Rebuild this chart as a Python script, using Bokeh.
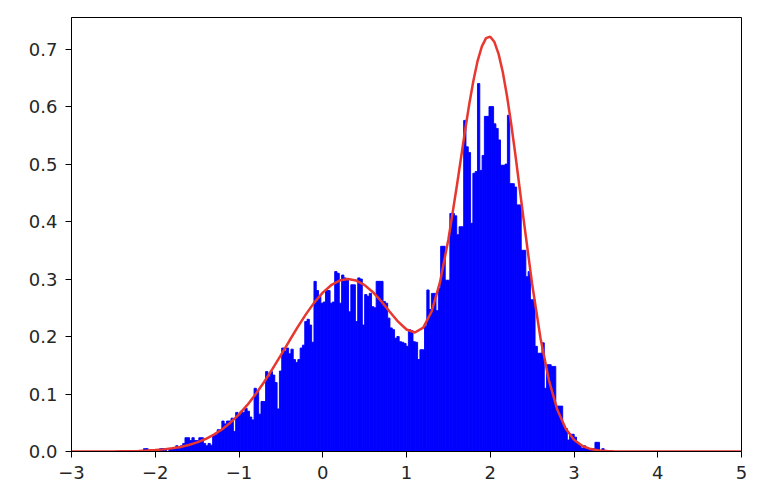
from bokeh.plotting import figure
from bokeh.models import Range1d, FixedTicker, ColumnDataSource
from bokeh.embed import file_html
from bokeh.resources import INLINE

# Histogram: uniform bins starting at bin_start, width bin_width
bin_start = -2.14
bin_width = 0.0275
bar_heights = [
    0.005, 0.005, 0, 0, 0, 0, 0, 0.005, 0.005, 0.005,
    0, 0.005, 0.005, 0.005, 0.01, 0.005, 0.01, 0.014, 0.024, 0.024,
    0.019, 0.024, 0.019, 0.019, 0.024, 0.024, 0.014, 0.01, 0.014, 0.011,
    0.029, 0.029, 0.038, 0.038, 0.053, 0.048, 0.053, 0.053, 0.058, 0.035,
    0.068, 0.063, 0.07, 0.068, 0.075, 0.07, 0.06, 0.055, 0.11, 0.105,
    0.065, 0.087, 0.087, 0.139, 0.13, 0.139, 0.133, 0.12, 0.074, 0.14,
    0.18, 0.175, 0.18, 0.17, 0.178, 0.16, 0.155, 0.16, 0.18, 0.185,
    0.226, 0.23, 0.22, 0.19, 0.296, 0.28, 0.27, 0.258, 0.26, 0.28,
    0.28, 0.258, 0.26, 0.313, 0.31, 0.258, 0.307, 0.302, 0.30, 0.243,
    0.29, 0.29, 0.226, 0.302, 0.30, 0.22, 0.273, 0.27, 0.275, 0.252,
    0.25, 0.296, 0.296, 0.296, 0.261, 0.258, 0.232, 0.215, 0.212, 0.197,
    0.2, 0.191, 0.19, 0.188, 0.183, 0.212, 0.21, 0.191, 0.19, 0.16,
    0.177, 0.177, 0.218, 0.281, 0.247, 0.275, 0.275, 0.245, 0.284, 0.357,
    0.357, 0.298, 0.298, 0.414, 0.414, 0.41, 0.377, 0.391, 0.391, 0.576,
    0.53, 0.52, 0.397, 0.484, 0.487, 0.64, 0.489, 0.515, 0.583, 0.583,
    0.60, 0.60, 0.57, 0.562, 0.542, 0.498, 0.498, 0.5, 0.585, 0.466,
    0.466, 0.46, 0.429, 0.429, 0.35, 0.35, 0.304, 0.313, 0.264, 0.264,
    0.183, 0.171, 0.171, 0.189, 0.11, 0.151, 0.151, 0.148, 0.148, 0.079,
    0.079, 0.079, 0.045, 0.04, 0.02, 0.03, 0.03, 0.025, 0.015, 0.012,
    0.006, 0.01, 0.005, 0.005, 0.005, 0.005, 0.016, 0.016, 0, 0.005,
]

curve_x = [-3.0, -2.5, -2.4, -2.3, -2.2, -2.1, -2.0, -1.9, -1.8, -1.7,
           -1.6, -1.5, -1.4, -1.3, -1.2, -1.1, -1.0, -0.9, -0.8, -0.7,
           -0.6, -0.5, -0.4, -0.3, -0.2, -0.1, 0.0, 0.1, 0.2, 0.3,
           0.4, 0.5, 0.6, 0.7, 0.8, 0.9, 1.0, 1.1, 1.2, 1.3,
           1.4, 1.5, 1.6, 1.7, 1.75, 1.8, 1.85, 1.9, 1.95, 2.0,
           2.05, 2.1, 2.15, 2.2, 2.25, 2.3, 2.4, 2.5, 2.6, 2.7,
           2.8, 2.9, 3.0, 3.1, 3.2, 3.3, 3.4, 3.5, 3.6, 5.0]
curve_y = [0.0, 0.0002, 0.0004, 0.0006, 0.0010, 0.0016, 0.0025, 0.0037, 0.0055, 0.0079,
           0.0113, 0.0158, 0.0217, 0.0293, 0.0388, 0.0505, 0.0646, 0.0810, 0.0999, 0.1209,
           0.1437, 0.1677, 0.1922, 0.2163, 0.2390, 0.2594, 0.2764, 0.2893, 0.2973, 0.3000,
           0.2973, 0.2895, 0.2771, 0.2611, 0.2432, 0.2258, 0.2122, 0.2070, 0.2156, 0.2435,
           0.2945, 0.3688, 0.4609, 0.5588, 0.6049, 0.6460, 0.6800, 0.7048, 0.7191, 0.7217,
           0.7123, 0.6913, 0.6596, 0.6185, 0.5700, 0.5162, 0.4018, 0.2915, 0.1971, 0.1242,
           0.0729, 0.0399, 0.0204, 0.0095, 0.0042, 0.0017, 0.0007, 0.0002, 0.0, 0.0]

x_ticks = [-3, -2, -1, 0, 1, 2, 3, 4, 5]
x_tick_labels = ["\u22123", "\u22122", "\u22121", "0", "1", "2", "3", "4", "5"]
y_ticks = [0.0, 0.1, 0.2, 0.3, 0.4, 0.5, 0.6, 0.7]
y_tick_labels = ["0.0", "0.1", "0.2", "0.3", "0.4", "0.5", "0.6", "0.7"]

lefts = [bin_start + bin_width * i for i in range(len(bar_heights))]
rights = [l + bin_width for l in lefts]
src = ColumnDataSource(dict(left=lefts, right=rights, top=bar_heights,
                            bottom=[0] * len(bar_heights)))

p = figure(width=760, height=495, output_backend="svg", toolbar_location=None,
           x_range=Range1d(-3, 5), y_range=Range1d(0, 0.755),
           min_border_left=71, min_border_right=19, min_border_top=17,
           min_border_bottom=44)
p.background_fill_color = "white"
p.border_fill_color = "white"
p.grid.visible = False
p.outline_line_color = "black"
p.outline_line_width = 1

p.quad(left="left", right="right", top="top", bottom="bottom", source=src,
       fill_color="#0000ff", line_color="#0000ff", line_width=0.9)
p.line(curve_x, curve_y, line_color="#e8372f", line_width=2.5)

font = "DejaVu Sans"
p.xaxis.ticker = FixedTicker(ticks=x_ticks)
p.yaxis.ticker = FixedTicker(ticks=y_ticks)
p.xaxis.major_label_overrides = {t: l for t, l in zip(x_ticks, x_tick_labels)}
p.yaxis.major_label_overrides = {t: l for t, l in zip(y_ticks, y_tick_labels)}
for ax in (p.xaxis, p.yaxis):
    ax.major_label_text_font = font
    ax.major_label_text_font_size = "18px"
    ax.major_label_text_color = "#262626"
    ax.axis_line_color = "black"
    ax.major_tick_line_color = "black"
    ax.major_tick_out = 6
    ax.major_tick_in = 0
    ax.minor_tick_line_color = None
    ax.major_label_standoff = 8

open("out.html", "w").write(file_html(p, INLINE))
